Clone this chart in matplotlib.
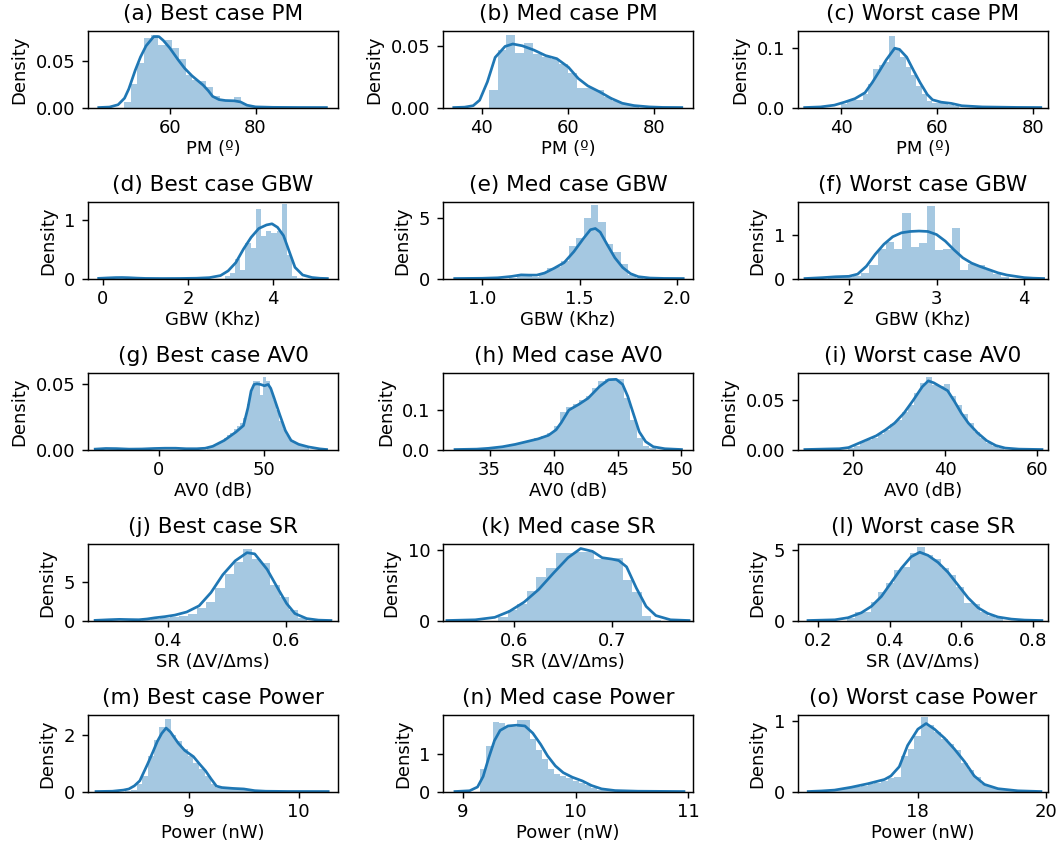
import numpy as np
import matplotlib
matplotlib.use("Agg")
import matplotlib.pyplot as plt

plt.rcParams['font.family'] = ['DejaVu Sans']
plt.rcParams['font.size'] = 10
plt.rcParams['xtick.major.pad'] = 3.0
plt.rcParams['axes.labelpad'] = 1.5

# ---------------- data ----------------
titles = ["(a) Best case PM", "(b) Med case PM", "(c) Worst case PM",
          "(d) Best case GBW", "(e) Med case GBW", "(f) Worst case GBW",
          "(g) Best case AV0", "(h) Med case AV0", "(i) Worst case AV0",
          "(j) Best case SR", "(k) Med case SR", "(l) Worst case SR",
          "(m) Best case Power", "(n) Med case Power", "(o) Worst case Power"]
row_xlabels = ["PM (º)", "GBW (Khz)", "AV0 (dB)", "SR (ΔV/Δms)", "Power (nW)"]

# (a) Best case PM
a_bin_start, a_bin_width = 49.3, 1.6
a_heights = [0.006, 0.025, 0.048, 0.074, 0.078, 0.067, 0.072, 0.064, 0.052, 0.035,
             0.030, 0.028, 0.022, 0.012, 0.008, 0.007, 0.011, 0.004, 0.002, 0.001, 0.0005]
a_kde_x = [43.5, 46, 48, 49.5, 50.5, 52, 53.2, 54.5, 56.3, 57.5, 58.5, 60, 62, 63.5, 65.2,
           66.5, 67.8, 69, 70, 71.5, 73, 75, 76.5, 78, 80, 84, 90, 96.5]
a_kde_y = [0, 0.0005, 0.003, 0.01, 0.02, 0.04, 0.054, 0.066, 0.076, 0.076, 0.072, 0.064,
           0.051, 0.042, 0.034, 0.029, 0.024, 0.018, 0.012, 0.0085, 0.0075, 0.0072, 0.006,
           0.0025, 0.0007, 0.0002, 0.00005, 0]

# (b) Med case PM
b_bin_start, b_bin_width = 41.6, 2.05
b_heights = [0.014, 0.047, 0.059, 0.045, 0.053, 0.044, 0.041, 0.040, 0.036, 0.028,
             0.016, 0.016, 0.014, 0.009, 0.0055, 0.0027, 0.001]
b_kde_x = [33.5, 36, 38, 39.5, 41.3, 43.1, 45.4, 47.2, 49.4, 52.1, 54.8, 57.4, 60.1, 62.4,
           64.6, 67.3, 70, 72.6, 75.3, 78.9, 82, 86.4]
b_kde_y = [0, 0.0003, 0.0015, 0.006, 0.021, 0.041, 0.050, 0.052, 0.0505, 0.047, 0.0425,
           0.040, 0.033, 0.0237, 0.0177, 0.0129, 0.0075, 0.0035, 0.0016, 0.0005, 0.0001, 0]

# (c) Worst case PM
c_bin_start, c_bin_width = 40.02, 1.12
c_heights = [0.006, 0.011, 0.013, 0.012, 0.022, 0.040, 0.065, 0.072, 0.077, 0.120, 0.100,
             0.085, 0.068, 0.055, 0.037, 0.022, 0.011, 0.008, 0.008, 0.007, 0.004, 0.002]
c_kde_x = [32.4, 35.7, 38.6, 40.7, 42.9, 45, 46.5, 47.9, 49.4, 51.2, 52.2, 53.7, 55.1, 56.5,
           58, 59.1, 60.9, 63, 65.2, 69.5, 76.7, 81.7]
c_kde_y = [0, 0.001, 0.004, 0.009, 0.015, 0.025, 0.042, 0.060, 0.080, 0.100, 0.098, 0.085,
           0.063, 0.042, 0.022, 0.013, 0.009, 0.007, 0.003, 0.001, 0.0002, 0]

# (d) Best case GBW
d_bin_start, d_bin_width = 2.858, 0.122
d_heights = [0.05, 0.10, 0.34, 0.14, 0.60, 0.52, 1.18, 0.72, 0.80, 0.78, 0.80, 1.26,
             0.40, 0.05, 0.01]
d_kde_x = [-0.1, 0.1, 0.3, 0.45, 0.6, 0.8, 1.0, 1.4, 1.8, 2.2, 2.5, 2.76, 2.94, 3.12, 3.3,
           3.48, 3.66, 3.84, 3.97, 4.1, 4.24, 4.38, 4.51, 4.69, 4.91, 5.1, 5.27]
d_kde_y = [0.003, 0.01, 0.016, 0.017, 0.014, 0.007, 0.002, 0.0, 0.001, 0.005, 0.015, 0.05,
           0.13, 0.27, 0.50, 0.70, 0.85, 0.91, 0.93, 0.87, 0.73, 0.45, 0.19, 0.06, 0.017,
           0.004, 0]

# (e) Med case GBW
e_bin_start, e_bin_width = 1.14, 0.038
e_heights = [0.05, 0.25, 0.2, 0.15, 0.45, 0.9, 0.95, 1.4, 2.7, 3.3, 5.0, 6.0, 4.6, 2.8,
             2.2, 1.2, 0.3, 0.05]
e_kde_x = [0.86, 1.0, 1.08, 1.15, 1.2, 1.24, 1.28, 1.32, 1.37, 1.42, 1.47, 1.52, 1.555,
           1.58, 1.605, 1.64, 1.68, 1.72, 1.76, 1.8, 1.86, 1.93, 2.03]
e_kde_y = [0, 0.02, 0.06, 0.17, 0.30, 0.28, 0.28, 0.45, 0.85, 1.3, 2.2, 3.3, 4.0, 4.1, 3.8,
           2.8, 1.7, 0.9, 0.4, 0.15, 0.04, 0.01, 0]

# (f) Worst case GBW
f_bin_start, f_bin_width = 1.763, 0.094
f_heights = [0.06, 0.04, 0.03, 0.05, 0.12, 0.30, 0.68, 0.83, 0.66, 1.49, 0.72, 0.81, 1.65,
             0.64, 0.68, 1.15, 0.20, 0.32, 0.30, 0.20, 0.10, 0.04]
f_kde_x = [1.5, 1.7, 1.85, 2.0, 2.1, 2.2, 2.3, 2.4, 2.5, 2.6, 2.7, 2.8, 2.9, 3.0, 3.1, 3.2,
           3.3, 3.4, 3.5, 3.6, 3.7, 3.8, 3.9, 4.0, 4.1, 4.22]
f_kde_y = [0.0, 0.02, 0.04, 0.05, 0.10, 0.28, 0.55, 0.78, 0.95, 1.04, 1.07, 1.08, 1.07,
           1.00, 0.85, 0.65, 0.47, 0.35, 0.27, 0.20, 0.13, 0.08, 0.05, 0.02, 0.008, 0]

# (g) Best case AV0
g_bin_start, g_bin_width = 23.0, 1.55
g_heights = [0.001, 0.002, 0.003, 0.005, 0.006, 0.009, 0.011, 0.013, 0.016, 0.018, 0.020,
             0.024, 0.035, 0.046, 0.053, 0.053, 0.042, 0.056, 0.053, 0.045, 0.038, 0.030,
             0.022, 0.016, 0.011, 0.007, 0.006, 0.005, 0.004, 0.003, 0.001]
g_kde_x = [-30, -25, -20, -14, -8, -2, 3, 8, 13, 18, 22, 25.6, 31, 36.5, 40.1, 42.2, 43.7,
           45.1, 46.5, 48.2, 50, 51.8, 53, 54.5, 57.2, 59.9, 62.6, 66.2, 70.8, 76.2, 79.4]
g_kde_y = [0.0003, 0.0008, 0.0007, 0.0003, 0.0004, 0.0008, 0.001, 0.001, 0.0006, 0.0006,
           0.001, 0.0025, 0.007, 0.0134, 0.0184, 0.032, 0.045, 0.050, 0.0505, 0.050, 0.049,
           0.050, 0.047, 0.040, 0.027, 0.0146, 0.007, 0.004, 0.002, 0.0005, 0]

# (h) Med case AV0
h_bin_start, h_bin_width = 34.0, 0.5
h_heights = [0.002, 0.003, 0.005, 0.007, 0.010, 0.014, 0.017, 0.020, 0.025, 0.028, 0.035,
             0.042, 0.060, 0.095, 0.108, 0.115, 0.125, 0.135, 0.155, 0.175, 0.178, 0.178,
             0.180, 0.130, 0.075, 0.030, 0.010, 0.003]
h_kde_x = [32.3, 34.0, 34.9, 36.0, 37.0, 37.9, 38.8, 39.6, 40.2, 40.6, 41.2, 42.0, 42.7,
           43.6, 44.3, 44.9, 45.4, 45.8, 46.3, 46.7, 47.2, 47.8, 48.7, 50.0]
h_kde_y = [0, 0.001, 0.003, 0.007, 0.013, 0.020, 0.027, 0.036, 0.050, 0.068, 0.100, 0.115,
           0.130, 0.160, 0.177, 0.178, 0.165, 0.135, 0.085, 0.045, 0.020, 0.007, 0.002, 0]

# (i) Worst case AV0
i_bin_start, i_bin_width = 18.9, 1.3
i_heights = [0.002, 0.004, 0.008, 0.010, 0.012, 0.016, 0.020, 0.026, 0.030, 0.038, 0.045,
             0.058, 0.068, 0.074, 0.066, 0.065, 0.067, 0.055, 0.045, 0.036, 0.027, 0.018,
             0.012, 0.007, 0.004, 0.002]
i_kde_x = [9.5, 14, 17, 19, 21, 23, 25, 27, 29, 31, 33, 35, 36.3, 37.5, 39, 40.5, 42, 43.5,
           45, 47, 49, 51, 53, 56, 61]
i_kde_y = [0, 0.0005, 0.0008, 0.002, 0.006, 0.010, 0.014, 0.020, 0.027, 0.037, 0.050,
           0.064, 0.070, 0.068, 0.064, 0.060, 0.049, 0.037, 0.027, 0.017, 0.009, 0.004,
           0.0015, 0.0004, 0]

# (j) Best case SR
j_bin_start, j_bin_width = 0.3565, 0.0155
j_heights = [0.1, 0.2, 0.35, 0.5, 0.55, 0.9, 1.6, 2.4, 4.2, 6.0, 7.5, 9.2, 8.0, 7.4, 4.6,
             3.0, 1.3, 0.35]
j_kde_x = [0.277, 0.3, 0.318, 0.335, 0.351, 0.365, 0.378, 0.395, 0.412, 0.432, 0.453,
           0.473, 0.493, 0.514, 0.534, 0.547, 0.568, 0.588, 0.601, 0.615, 0.635, 0.655, 0.676]
j_kde_y = [0.02, 0.1, 0.15, 0.12, 0.1, 0.2, 0.35, 0.5, 0.7, 1.1, 1.9, 3.6, 5.9, 7.7, 8.75,
           8.6, 6.6, 3.9, 2.2, 0.9, 0.25, 0.05, 0]

# (k) Med case SR
k_bin_start, k_bin_width = 0.5835, 0.0098
k_heights = [0.5, 1.5, 2.3, 4.2, 6.2, 7.4, 9.6, 9.6, 9.7, 9.7, 8.7, 8.8, 8.9, 5.8, 4.1,
             0.6, 0.1]
k_kde_x = [0.531, 0.56, 0.58, 0.595, 0.61, 0.625, 0.64, 0.655, 0.668, 0.68, 0.69, 0.7,
           0.707, 0.715, 0.725, 0.735, 0.745, 0.76, 0.779]
k_kde_y = [0, 0.1, 0.45, 1.3, 2.6, 4.4, 6.7, 8.9, 10.2, 9.8, 8.9, 8.7, 8.5, 7.6, 4.6, 2.0,
           0.7, 0.1, 0]

# (l) Worst case SR
l_bin_start, l_bin_width = 0.2818, 0.02175
l_heights = [0.17, 0.6, 0.6, 1.34, 2.0, 2.65, 3.6, 3.75, 4.75, 5.2, 4.6, 4.35, 3.7, 3.2,
             2.4, 1.25, 1.2, 0.6, 0.3, 0.15]
l_kde_x = [0.172, 0.247, 0.284, 0.321, 0.349, 0.377, 0.405, 0.433, 0.46, 0.484, 0.507,
           0.535, 0.563, 0.591, 0.619, 0.647, 0.674, 0.702, 0.74, 0.777, 0.825]
l_kde_y = [0.0, 0.05, 0.2, 0.55, 1.0, 1.7, 2.7, 3.7, 4.5, 4.82, 4.6, 4.1, 3.4, 2.5, 1.6,
           0.9, 0.5, 0.25, 0.1, 0.03, 0]

# (m) Best case Power
m_bin_start, m_bin_width = 8.416, 0.052
m_heights = [0.02, 0.06, 0.25, 0.55, 1.25, 1.83, 2.27, 2.55, 2.0, 1.77, 1.5, 1.25, 1.02,
             0.79, 0.56, 0.27, 0.12, 0.1, 0.1, 0.09, 0.08, 0.06, 0.03, 0.015]
m_kde_x = [8.15, 8.3, 8.4, 8.45, 8.5, 8.55, 8.62, 8.67, 8.71, 8.75, 8.79, 8.83, 8.9, 8.96,
           9.04, 9.1, 9.15, 9.2, 9.25, 9.3, 9.4, 9.5, 9.55, 9.6, 9.7, 9.9, 10.27]
m_kde_y = [0, 0.01, 0.05, 0.09, 0.2, 0.38, 0.96, 1.4, 1.77, 2.05, 2.24, 2.1, 1.71, 1.45,
           1.23, 0.95, 0.73, 0.45, 0.19, 0.14, 0.11, 0.09, 0.06, 0.03, 0.01, 0.002, 0]

# (n) Med case Power
n_bin_start, n_bin_width = 9.155, 0.0545
n_heights = [0.61, 1.22, 1.85, 1.83, 1.72, 1.72, 1.9, 1.91, 1.4, 1.1, 0.85, 0.59, 0.46,
             0.42, 0.37, 0.29, 0.23, 0.16, 0.09, 0.05, 0.03, 0.02]
n_kde_x = [8.93, 9.06, 9.13, 9.18, 9.23, 9.28, 9.33, 9.4, 9.48, 9.55, 9.62, 9.69, 9.75,
           9.82, 9.89, 9.97, 10.06, 10.14, 10.23, 10.35, 10.55, 10.96]
n_kde_y = [0, 0.02, 0.12, 0.4, 0.9, 1.35, 1.62, 1.74, 1.76, 1.74, 1.55, 1.25, 0.95, 0.68,
           0.5, 0.38, 0.28, 0.16, 0.07, 0.025, 0.008, 0]

# (o) Worst case Power
o_bin_start, o_bin_width = 16.49, 0.104
o_heights = [0.005, 0.01, 0.02, 0.035, 0.05, 0.065, 0.08, 0.1, 0.12, 0.15, 0.19, 0.21,
             0.5, 0.6, 0.78, 1.05, 0.94, 0.84, 0.74, 0.67, 0.58, 0.4, 0.3, 0.2, 0.1, 0.08,
             0.05, 0.03, 0.015, 0.008]
o_kde_x = [16.29, 16.5, 16.7, 16.96, 17.22, 17.48, 17.58, 17.71, 17.84, 18.0, 18.13, 18.26,
           18.42, 18.57, 18.73, 18.88, 19.04, 19.25, 19.56, 19.92]
o_kde_y = [0, 0.008, 0.02, 0.06, 0.11, 0.17, 0.22, 0.35, 0.65, 0.88, 0.96, 0.88, 0.75,
           0.6, 0.42, 0.22, 0.1, 0.04, 0.01, 0]

# tick values shown on each panel
x_ticks = [[60, 80], [40, 60, 80], [40, 60, 80],
           [0, 2, 4], [1.0, 1.5, 2.0], [2, 3, 4],
           [0, 50], [35, 40, 45, 50], [20, 40, 60],
           [0.4, 0.6], [0.6, 0.7], [0.2, 0.4, 0.6, 0.8],
           [9, 10], [9, 10, 11], [18, 20]]
y_ticks = [[0, 0.05], [0, 0.05], [0, 0.1],
           [0, 1], [0, 5], [0, 1],
           [0, 0.05], [0, 0.1], [0, 0.05],
           [0, 5], [0, 10], [0, 5],
           [0, 2], [0, 1], [0, 1]]

panels = [
    (a_bin_start, a_bin_width, a_heights, a_kde_x, a_kde_y),
    (b_bin_start, b_bin_width, b_heights, b_kde_x, b_kde_y),
    (c_bin_start, c_bin_width, c_heights, c_kde_x, c_kde_y),
    (d_bin_start, d_bin_width, d_heights, d_kde_x, d_kde_y),
    (e_bin_start, e_bin_width, e_heights, e_kde_x, e_kde_y),
    (f_bin_start, f_bin_width, f_heights, f_kde_x, f_kde_y),
    (g_bin_start, g_bin_width, g_heights, g_kde_x, g_kde_y),
    (h_bin_start, h_bin_width, h_heights, h_kde_x, h_kde_y),
    (i_bin_start, i_bin_width, i_heights, i_kde_x, i_kde_y),
    (j_bin_start, j_bin_width, j_heights, j_kde_x, j_kde_y),
    (k_bin_start, k_bin_width, k_heights, k_kde_x, k_kde_y),
    (l_bin_start, l_bin_width, l_heights, l_kde_x, l_kde_y),
    (m_bin_start, m_bin_width, m_heights, m_kde_x, m_kde_y),
    (n_bin_start, n_bin_width, n_heights, n_kde_x, n_kde_y),
    (o_bin_start, o_bin_width, o_heights, o_kde_x, o_kde_y),
]

# ---------------- axis view limits ----------------
x_limits = [(41.0, 99.2), (31.0, 89.0), (31.0, 83.2),
            (-0.35, 5.52), (0.80, 2.08), (1.42, 4.27),
            (-33.4, 84.8), (31.36, 50.9), (8.0, 62.3),
            (0.265, 0.688), (0.527, 0.783), (0.144, 0.842),
            (8.077, 10.36), (8.824, 11.04), (16.13, 20.03)]
y_tops = [0.082, 0.0626, 0.129,
          1.30, 6.27, 1.74,
          0.0588, 0.194, 0.078,
          9.87, 10.84, 5.4,
          2.70, 2.03, 1.08]

# ---------------- figure ----------------
fig, axes = plt.subplots(5, 3, figsize=(8.1385, 6.5), dpi=130)
fig.subplots_adjust(left=0.0832, right=0.9905, bottom=0.0633, top=0.9633,
                    wspace=0.42, hspace=1.235)

for idx, ax in enumerate(axes.flat):
    start, width, heights, kx, ky = panels[idx]
    lefts = start + width * np.arange(len(heights))
    ax.bar(lefts, heights, width=width, align='edge', color='C0', alpha=0.4,
           linewidth=0)
    ax.plot(kx, ky, color='C0', lw=1.5)
    ax.set_xlim(*x_limits[idx])
    ax.set_ylim(0, y_tops[idx])
    ax.set_xticks(x_ticks[idx])
    ax.set_yticks(y_ticks[idx])
    ax.set_title(titles[idx], fontsize=12)
    ax.set_xlabel(row_xlabels[idx // 3])
    ax.set_ylabel("Density", labelpad=4)

fig.savefig("out.png", dpi=130)
